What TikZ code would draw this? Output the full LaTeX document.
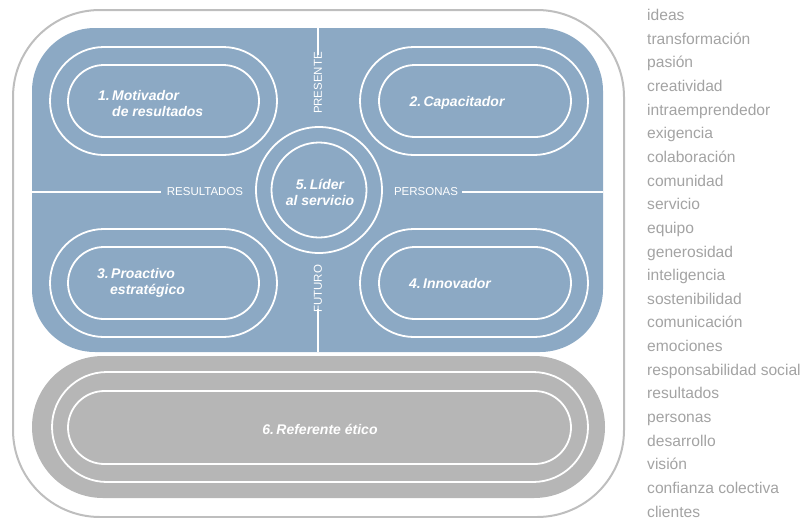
\documentclass[tikz,border=0pt]{standalone}
\usepackage{fontspec}
\setmainfont{Liberation Sans}
\begin{document}
\begin{tikzpicture}[x=1pt,y=-1pt,
  ring/.style={draw=white,line width=1.8pt},
  divider/.style={draw=white,line width=1.6pt},
  quadlabel/.style={text=white,font=\fontsize{14}{16}\selectfont\bfseries\itshape,inner sep=0pt},
  axislabel/.style={text=white,font=\fontsize{11.5}{13}\selectfont,inner sep=0pt},
  wordlabel/.style={text=wordgray,font=\fontsize{15.6}{17}\selectfont,anchor=base west,inner sep=0pt}]
\definecolor{bluefill}{RGB}{140,169,196}
\definecolor{bandgray}{RGB}{182,182,182}
\definecolor{bordergray}{RGB}{190,190,190}
\definecolor{wordgray}{RGB}{163,163,163}
\useasboundingbox (0,0) rectangle (806,517);
% outer frame
\draw[bordergray,line width=2pt,rounded corners=87pt] (13,10) rectangle (624,517);
% blue block
\fill[bluefill,rounded corners=63pt] (32,28) rectangle (603,352);
% gray band
\fill[bandgray,rounded corners=71pt] (32,356) rectangle (605,498);
\draw[ring,rounded corners=55pt] (52,372) rectangle (588,482);
\draw[ring,rounded corners=36.5pt] (68,391) rectangle (571,464);
% quadrant stadia
\draw[ring,rounded corners=54pt] (50,47) rectangle (277,155);
\draw[ring,rounded corners=36pt] (68,65) rectangle (259,137);
\draw[ring,rounded corners=54pt] (360,47) rectangle (588,155);
\draw[ring,rounded corners=36pt] (379,65) rectangle (571,137);
\draw[ring,rounded corners=54pt] (50,229) rectangle (277,337);
\draw[ring,rounded corners=36pt] (68,247) rectangle (259,319);
\draw[ring,rounded corners=54pt] (360,229) rectangle (588,337);
\draw[ring,rounded corners=36pt] (379,247) rectangle (571,319);
% center circles
\draw[ring] (319,190) circle[radius=63];
\draw[ring] (319,190) circle[radius=47.5];
% axis labels and dividers
\node[axislabel,rotate=90] (presente) at (318,83) {PRESENTE};
\node[axislabel,rotate=90] (futuro) at (318,289) {FUTURO};
\node[axislabel] (resultados) at (205,192) {RESULTADOS};
\node[axislabel] (personas) at (426,192) {PERSONAS};
\coordinate (ctop) at (318,28);
\coordinate (cbot) at (318,352);
\coordinate (cleft) at (32,192);
\coordinate (cright) at (603,192);
\draw[divider] (ctop) -- ([yshift=-3pt]presente.east);
\draw[divider] ([yshift=4pt]futuro.west) -- (cbot);
\draw[divider] (cleft) -- ([xshift=-6pt]resultados.west);
\draw[divider] ([xshift=4pt]personas.east) -- (cright);
% quadrant labels
\node[quadlabel,anchor=west,align=left] (q1) at (98,103) {1.\,Motivador\\\hspace*{14pt}de resultados};
\node[quadlabel] (q2) at (457,103) {2.\,Capacitador};
\node[quadlabel,anchor=west,align=left] (q3) at (97,283) {3.\,Proactivo\\\hspace*{13pt}estratégico};
\node[quadlabel] (q4) at (450,283) {4.\,Innovador};
\node[quadlabel,align=center] (q5) at (320,192) {5.\,Líder\\al servicio};
\node[quadlabel] (q6) at (320,429) {6.\,Referente ético};
% word list
\foreach \w [count=\i from 0] in {ideas,transformación,pasión,creatividad,intraemprendedor,exigencia,colaboración,comunidad,servicio,equipo,generosidad,inteligencia,sostenibilidad,comunicación,emociones,responsabilidad social,resultados,personas,desarrollo,visión,confianza colectiva,clientes}
  \node[wordlabel] (w\i) at (647,{20.5+23.65*\i}) {\w};
\end{tikzpicture}
\end{document}
